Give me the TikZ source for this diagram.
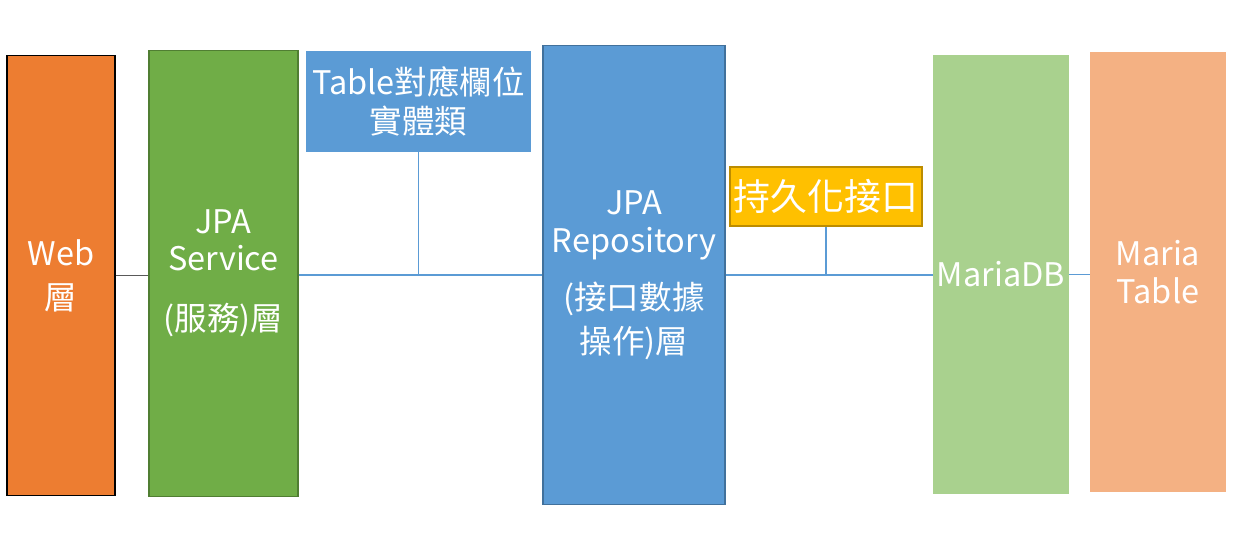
\documentclass[tikz,border=0pt]{standalone}
\usepackage{fontspec}
\setmainfont{Noto Sans CJK TC}
\usepackage{xcolor}

\definecolor{weborange}{HTML}{ED7D31}
\definecolor{srvgreen}{HTML}{70AD47}
\definecolor{srvborder}{HTML}{507E32}
\definecolor{repoblue}{HTML}{5B9BD5}
\definecolor{repoborder}{HTML}{41719C}
\definecolor{gold}{HTML}{FFC000}
\definecolor{goldborder}{HTML}{BC8C00}
\definecolor{dbgreen}{HTML}{A9D18E}
\definecolor{tblorange}{HTML}{F4B183}
\definecolor{linkgray}{HTML}{595959}

\tikzset{
  layer/.style = {rectangle, inner sep=0pt, align=center, text=white,
    font=\fontsize{18.5}{22}\selectfont},
  link/.style = {line width=0.6pt, repoblue}
}

\begin{document}
\begin{tikzpicture}[x = 0.02cm, y = -0.02cm]
        \useasboundingbox (0, 0) rectangle (1242, 538);

        \node [layer, fill=weborange, draw=black, line width=0.6pt,
               minimum width=2.16cm, minimum height=8.82cm] (web) at (61, 275.5)
              {Web\\[3pt]層};
        \node [layer, fill=srvgreen, draw=srvborder, line width=0.6pt,
               minimum width=2.98cm, minimum height=8.94cm] (service) at (223.5, 273.5)
              {JPA\\[-1pt]Service\\[12pt](服務)層};
        \node [layer, fill=repoblue,
               minimum width=4.5cm, minimum height=2.02cm] (entity) at (418.5, 101.5)
              {Table對應欄位\\實體類};
        \node [layer, fill=repoblue, draw=repoborder, line width=0.6pt,
               minimum width=3.64cm, minimum height=9.2cm] (repo) at (634, 275)
              {JPA\\Repository\\[10pt](接口數據\\[3pt]操作)層};
        \node [layer, fill=gold, draw=goldborder, line width=0.6pt,
               font=\fontsize{21}{24}\selectfont,
               minimum width=3.84cm, minimum height=1.18cm] (persist) at (826, 196.5)
              {持久化接口};
        \node [layer, fill=dbgreen,
               minimum width=2.72cm, minimum height=8.78cm] (mariadb) at (1001, 274.5)
              {MariaDB};
        \node [layer, fill=tblorange,
               minimum width=2.72cm, minimum height=8.8cm] (mariatable) at (1158, 272)
              {Maria\\Table};

        \draw [line width=0.6pt, linkgray] (web.east) -- (web.east -| service.west);
        \draw [link] (service.east |- repo.west) -- (repo.west);
        \draw [link] (entity.south) -- (entity.south |- repo.west);
        \draw [link] (repo.east) -- (repo.east -| mariadb.west);
        \draw [link] (persist.south) -- (persist.south |- repo.east);
        \draw [link] (mariadb.east) -- (mariadb.east -| mariatable.west);
    \end{tikzpicture}
\end{document}
